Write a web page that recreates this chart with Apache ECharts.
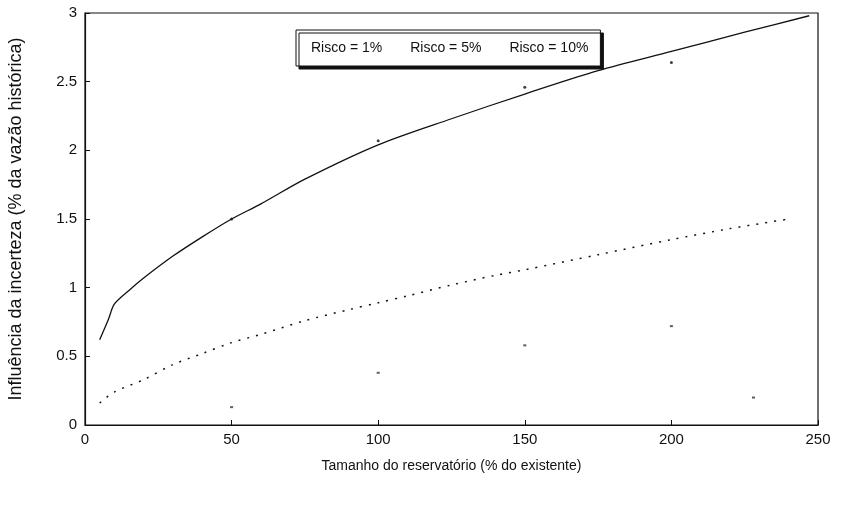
<!DOCTYPE html>
<html>
<head>
<meta charset="utf-8">
<script src="https://cdn.jsdelivr.net/npm/echarts@6/dist/echarts.min.js"></script>
<style>
html,body{margin:0;padding:0;background:#fff;}
#chart{width:852px;height:510px;}
</style>
</head>
<body>
<div id="chart"></div>
<script>
// Series names
const seriesNames = ['Risco = 1%', 'Risco = 5%', 'Risco = 10%'];
// Risco = 1% : solid curve (x = tamanho %, y = influência %)
const risco1X = [5, 8, 10, 15, 20, 30, 40, 50, 60, 75, 100, 125, 150, 175, 200, 225, 247];
const risco1Y = [0.62, 0.77, 0.88, 0.98, 1.07, 1.23, 1.37, 1.50, 1.61, 1.79, 2.04, 2.23, 2.41, 2.58, 2.72, 2.86, 2.98];
// Risco = 1% : plotted points
const risco1PtX = [50, 100, 150, 200];
const risco1PtY = [1.50, 2.07, 2.46, 2.64];
// Risco = 5% : dotted curve
const risco5X = [5, 10, 20, 30, 40, 50, 60, 75, 90, 100, 110, 125, 140, 150, 175, 200, 220, 240];
const risco5Y = [0.16, 0.24, 0.33, 0.44, 0.52, 0.60, 0.66, 0.76, 0.84, 0.89, 0.94, 1.02, 1.09, 1.13, 1.24, 1.35, 1.43, 1.50];
// Risco = 10% : faint points
const risco10X = [50, 100, 150, 200, 228];
const risco10Y = [0.13, 0.38, 0.58, 0.72, 0.20];
// Axis ticks
const xTicks = [0, 50, 100, 150, 200, 250];
const yTicks = [0, 0.5, 1, 1.5, 2, 2.5, 3];

const pair = (xs, ys) => xs.map((x, i) => [x, ys[i]]);
const FONT = 'Liberation Sans';
const INK = '#111';

const chart = echarts.init(document.getElementById('chart'), null, {renderer: 'canvas'});
chart.setOption({
  animation: false,
  backgroundColor: '#fff',
  textStyle: {fontFamily: FONT, color: INK},
  grid: {left: 85, right: 34, top: 13, bottom: 85, containLabel: false, outerBoundsMode: 'none',
    show: true, borderColor: INK, borderWidth: 1.2},
  legend: {
    data: seriesNames,
    left: 296, top: 30,
    padding: [11, 12, 11, 10],
    itemGap: 23,
    itemWidth: 0, itemHeight: 0,
    icon: 'none',
    backgroundColor: '#fff',
    borderColor: INK, borderWidth: 1,
    shadowColor: INK, shadowBlur: 0, shadowOffsetX: 3, shadowOffsetY: 3,
    textStyle: {fontFamily: FONT, fontSize: 14, color: INK}
  },
  xAxis: {
    type: 'value', min: 0, max: 250, interval: 50,
    name: 'Tamanho do reservatório (% do existente)',
    nameLocation: 'middle', nameGap: 34,
    nameTextStyle: {fontFamily: FONT, fontSize: 14, color: INK},
    axisLine: {show: true, lineStyle: {color: INK, width: 1.2}},
    axisTick: {show: true, inside: true, length: 5, lineStyle: {color: INK}},
    axisLabel: {fontFamily: FONT, fontSize: 15, color: INK, margin: 7,
      formatter: v => xTicks.includes(v) ? String(v) : ''},
    splitLine: {show: false}
  },
  yAxis: {
    type: 'value', min: 0, max: 3, interval: 0.5,
    name: 'Influência da incerteza (% da vazão histórica)',
    nameLocation: 'middle', nameGap: 60, nameRotate: 90,
    nameTextStyle: {fontFamily: FONT, fontSize: 18, color: INK},
    axisLine: {show: true, lineStyle: {color: INK, width: 1.2}},
    axisTick: {show: true, inside: true, length: 5, lineStyle: {color: INK}},
    axisLabel: {fontFamily: FONT, fontSize: 15, color: INK, margin: 8,
      formatter: v => yTicks.includes(v) ? String(v) : ''},
    splitLine: {show: false}
  },
  series: [
    {
      name: seriesNames[0], type: 'line', data: pair(risco1X, risco1Y),
      smooth: 0.3, symbol: 'none',
      lineStyle: {color: INK, width: 1.3, type: 'solid'},
      itemStyle: {color: INK}
    },
    {
      name: '_r1pts', type: 'scatter', data: pair(risco1PtX, risco1PtY),
      symbol: 'circle', symbolSize: 3, itemStyle: {color: INK}
    },
    {
      name: seriesNames[1], type: 'line', data: pair(risco5X, risco5Y),
      smooth: 0.3, symbol: 'none',
      lineStyle: {color: INK, width: 1.5, type: [2, 7]},
      itemStyle: {color: INK}
    },
    {
      name: seriesNames[2], type: 'scatter', data: pair(risco10X, risco10Y),
      symbol: 'rect', symbolSize: [3, 2], itemStyle: {color: '#333'}
    }
  ]
});
</script>
</body>
</html>
